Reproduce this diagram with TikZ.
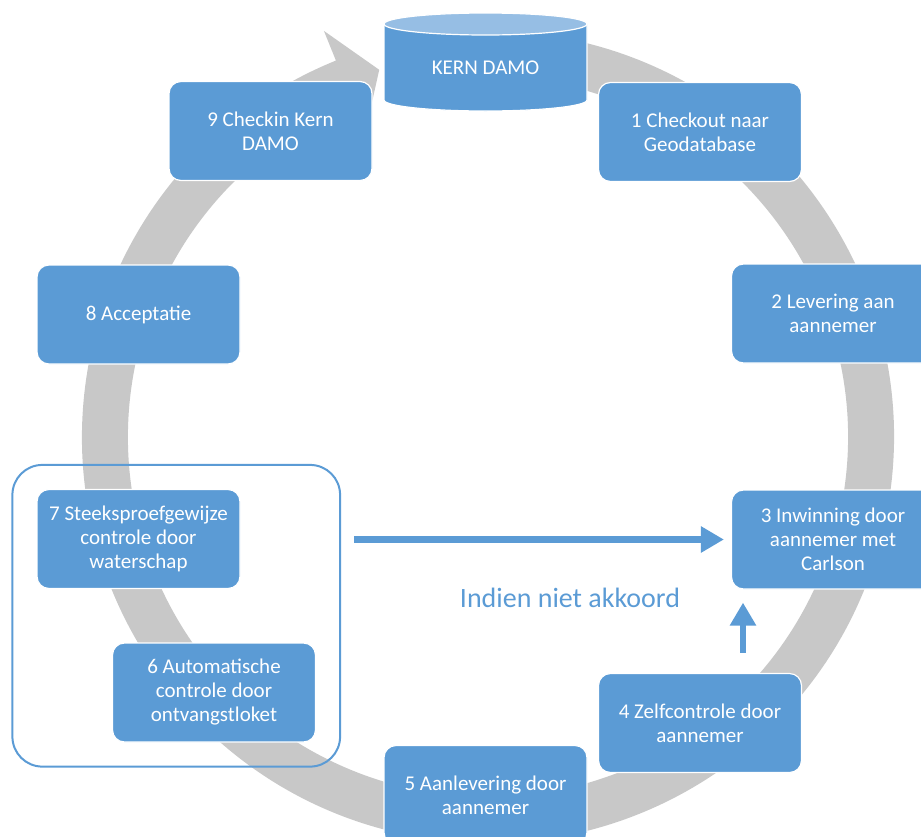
\documentclass[tikz,border=0pt]{standalone}
\usepackage{fontspec}
\setmainfont{Carlito}
\usetikzlibrary{arrows.meta,calc,fit}

\definecolor{boxblue}{RGB}{91,155,213}
\definecolor{lidblue}{RGB}{150,190,228}
\definecolor{ringgray}{RGB}{200,200,200}

\tikzset{
  phase/.style={draw=white, line width=1.2pt, fill=boxblue, rounded corners=12pt,
    minimum width=203pt, minimum height=99pt, align=center, text=white,
    font=\fontsize{21}{24}\selectfont},
  flow/.style={draw=boxblue, line width=6.5pt, -{Triangle[length=23pt,width=25pt]}},
}

\begin{document}
\begin{tikzpicture}[x=1pt, y=-1pt]
\useasboundingbox (0,0) rectangle (921,836);

% grey cycle arrow behind the steps
\coordinate (c) at (488,437);
\fill[ringgray] ($(c)+(-80:406)$) arc[start angle=-80, end angle=248, radius=406]
    -- ($(c)+(248:438)$) -- ($(c)+(253.5:383)$) -- ($(c)+(248:328)$)
    -- ($(c)+(248:360)$) arc[start angle=248, end angle=-80, radius=360] -- cycle;

% KERN DAMO store
\filldraw[fill=boxblue, draw=white, line width=1.2pt] (384,24) -- (384,100)
    arc[start angle=180, end angle=0, x radius=101.5, y radius=11] -- (587,24) -- cycle;
\filldraw[fill=lidblue, draw=white, line width=1.2pt] (485.5,24) ellipse[x radius=101.5, y radius=11];
\node (kern) at (485.5,68) [text=white, font=\fontsize{21}{24}\selectfont] {KERN DAMO};

\node (s9) at (270.5,131) [phase] {9 Checkin Kern\\DAMO};
\node (s1) at (700,132) [phase] {1 Checkout naar\\Geodatabase};
\node (s2) at (833,313.5) [phase] {2 Levering aan\\aannemer};
\node (s3) at (833,539.5) [phase] {3 Inwinning door\\aannemer met\\Carlson};
\node (s4) at (700,723) [phase] {4 Zelfcontrole door\\aannemer};
\node (s5) at (485.5,795) [phase] {5 Aanlevering door\\aannemer};
\node (s6) at (214,692.5) [phase] {6 Automatische\\controle door\\ontvangstloket};
\node (s7) at (138.5,539) [phase] {7 Steeksproefgewijze\\controle door\\waterschap};
\node (s8) at (138.5,314.5) [phase] {8 Acceptatie};

\node (checks) [fit=(s7)(s6), inner sep=24pt, draw=boxblue, line width=2pt, rounded corners=30pt] {};

% back to step 3
\coordinate (up) at ($(s4.north)+(43,0)$);
\draw[flow, shorten <=13pt, shorten >=7pt] (checks.east |- s3.west) -- (s3.west);
\draw[flow, shorten <=20pt, shorten >=13pt] (up) -- (up |- s3.south);
\node (akkoord) at (570,598) [text=boxblue, font=\fontsize{28}{32}\selectfont] {Indien niet akkoord};
\end{tikzpicture}
\end{document}
